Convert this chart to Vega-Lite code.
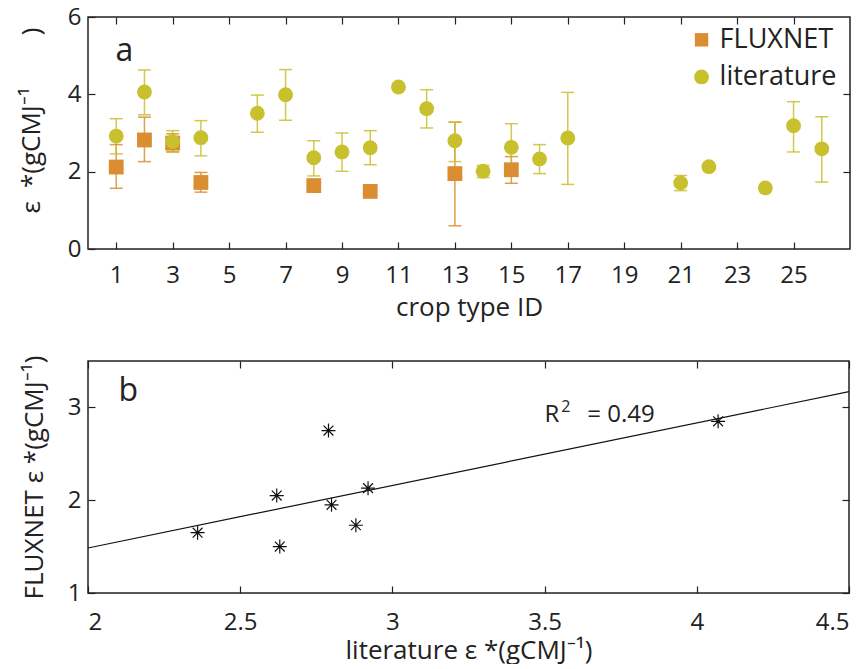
{
  "$schema": "https://vega.github.io/schema/vega-lite/v6.json",
  "background": "white",
  "padding": {"left": 17, "top": 4, "right": 0, "bottom": 0},
  "spacing": 33,
  "config": {
    "font": "Open Sans",
    "view": {"stroke": "#222222", "strokeWidth": 1.5},
    "axis": {
      "domain": false, "grid": false,
      "tickSize": -7, "tickColor": "#222222", "tickWidth": 1.2,
      "labelFont": "Open Sans", "labelFontSize": 24, "labelColor": "#222222",
      "titleFont": "Open Sans", "titleFontSize": 26, "titleFontWeight": "normal", "titleColor": "#222222"
    }
  },
  "datasets": {
    "crops": [
      {"id": 1, "source": "FLUXNET", "value": 2.12, "lo": 1.57, "hi": 2.70},
      {"id": 2, "source": "FLUXNET", "value": 2.82, "lo": 2.26, "hi": 3.41},
      {"id": 3, "source": "FLUXNET", "value": 2.74, "lo": 2.52, "hi": 2.98},
      {"id": 4, "source": "FLUXNET", "value": 1.72, "lo": 1.47, "hi": 1.98},
      {"id": 8, "source": "FLUXNET", "value": 1.64, "lo": null, "hi": null},
      {"id": 10, "source": "FLUXNET", "value": 1.49, "lo": null, "hi": null},
      {"id": 13, "source": "FLUXNET", "value": 1.95, "lo": 0.60, "hi": 3.28},
      {"id": 15, "source": "FLUXNET", "value": 2.05, "lo": 1.70, "hi": 2.39},
      {"id": 1, "source": "literature", "value": 2.92, "lo": 2.46, "hi": 3.37},
      {"id": 2, "source": "literature", "value": 4.06, "lo": 3.47, "hi": 4.63},
      {"id": 3, "source": "literature", "value": 2.78, "lo": 2.50, "hi": 3.06},
      {"id": 4, "source": "literature", "value": 2.88, "lo": 2.41, "hi": 3.32},
      {"id": 6, "source": "literature", "value": 3.51, "lo": 3.02, "hi": 3.98},
      {"id": 7, "source": "literature", "value": 3.99, "lo": 3.33, "hi": 4.64},
      {"id": 8, "source": "literature", "value": 2.36, "lo": 1.89, "hi": 2.80},
      {"id": 9, "source": "literature", "value": 2.51, "lo": 2.01, "hi": 3.00},
      {"id": 10, "source": "literature", "value": 2.62, "lo": 2.18, "hi": 3.06},
      {"id": 11, "source": "literature", "value": 4.19, "lo": null, "hi": null},
      {"id": 12, "source": "literature", "value": 3.63, "lo": 3.13, "hi": 4.12},
      {"id": 13, "source": "literature", "value": 2.80, "lo": 2.26, "hi": 3.28},
      {"id": 14, "source": "literature", "value": 2.01, "lo": 1.85, "hi": 2.16},
      {"id": 15, "source": "literature", "value": 2.63, "lo": 1.98, "hi": 3.24},
      {"id": 16, "source": "literature", "value": 2.33, "lo": 1.95, "hi": 2.70},
      {"id": 17, "source": "literature", "value": 2.87, "lo": 1.67, "hi": 4.05},
      {"id": 21, "source": "literature", "value": 1.71, "lo": 1.51, "hi": 1.90},
      {"id": 22, "source": "literature", "value": 2.13, "lo": null, "hi": null},
      {"id": 24, "source": "literature", "value": 1.58, "lo": null, "hi": null},
      {"id": 25, "source": "literature", "value": 3.19, "lo": 2.51, "hi": 3.81},
      {"id": 26, "source": "literature", "value": 2.59, "lo": 1.73, "hi": 3.42}
    ],
    "legend": [
      {"source": "FLUXNET"},
      {"source": "literature"}
    ],
    "pairs": [
      {"literature": 2.92, "fluxnet": 2.13},
      {"literature": 4.07, "fluxnet": 2.85},
      {"literature": 2.79, "fluxnet": 2.75},
      {"literature": 2.88, "fluxnet": 1.73},
      {"literature": 2.36, "fluxnet": 1.65},
      {"literature": 2.63, "fluxnet": 1.50},
      {"literature": 2.80, "fluxnet": 1.95},
      {"literature": 2.62, "fluxnet": 2.05}
    ],
    "fit": [
      {"literature": 2.0, "fluxnet": 1.485},
      {"literature": 4.5, "fluxnet": 3.17}
    ]
  },
  "vconcat": [
    {
      "width": 762,
      "height": 232,
      "resolve": {"axis": {"x": "independent", "y": "independent"}},
      "layer": [
        {
          "data": {"name": "crops"},
          "mark": {"type": "rule", "strokeWidth": 1.5, "opacity": 0.85},
          "encoding": {
            "x": {"field": "id", "type": "quantitative", "scale": {"domain": [0, 27], "nice": false, "zero": false},
                  "axis": {"values": [1,3,5,7,9,11,13,15,17,19,21,23,25], "title": "crop type ID", "labelPadding": 21, "titlePadding": 7}},
            "y": {"field": "lo", "type": "quantitative", "scale": {"domain": [0, 6], "nice": false},
                  "axis": {"values": [0,2,4,6], "title": "ε\u2002*(gCMJ⁻¹\u2003\u2003)", "labelPadding": 14, "titleX": -44, "titleY": 103, "titleBaseline": "bottom", "titleAngle": -90, "titleAlign": "center"}},
            "y2": {"field": "hi"},
            "stroke": {"field": "source", "type": "nominal", "scale": {"domain": ["FLUXNET", "literature"], "range": ["#DB8D31", "#C9C02E"]}, "legend": null}
          }
        },
        {
          "data": {"name": "crops"},
          "mark": {"type": "tick", "orient": "horizontal", "size": 13, "thickness": 1.5, "opacity": 0.85, "strokeWidth": 0},
          "encoding": {
            "x": {"field": "id", "type": "quantitative", "axis": null},
            "y": {"field": "lo", "type": "quantitative", "axis": null},
            "fill": {"field": "source", "type": "nominal", "scale": {"domain": ["FLUXNET", "literature"], "range": ["#DB8D31", "#C9C02E"]}, "legend": null}
          }
        },
        {
          "data": {"name": "crops"},
          "mark": {"type": "tick", "orient": "horizontal", "size": 13, "thickness": 1.5, "opacity": 0.85, "strokeWidth": 0},
          "encoding": {
            "x": {"field": "id", "type": "quantitative", "axis": null},
            "y": {"field": "hi", "type": "quantitative", "axis": null},
            "fill": {"field": "source", "type": "nominal", "legend": null}
          }
        },
        {
          "data": {"name": "crops"},
          "mark": {"type": "point", "filled": true, "opacity": 1, "size": 220},
          "encoding": {
            "x": {"field": "id", "type": "quantitative",
                  "axis": {"orient": "top", "values": [1,3,5,7,9,11,13,15,17,19,21,23,25], "labels": false, "title": null}},
            "y": {"field": "value", "type": "quantitative",
                  "axis": {"orient": "right", "values": [2,4], "labels": false, "title": null}},
            "color": {"field": "source", "type": "nominal",
                      "scale": {"domain": ["FLUXNET", "literature"], "range": ["#DB8D31", "#C9C02E"]}, "legend": null},
            "shape": {"field": "source", "type": "nominal", "scale": {"domain": ["FLUXNET", "literature"], "range": ["square", "circle"]}, "legend": null}
          }
        },
        {
          "data": {"name": "legend"},
          "transform": [{"filter": "datum.source === 'FLUXNET'"}],
          "mark": {"type": "point", "filled": true, "opacity": 1, "size": 180},
          "encoding": {
            "x": {"datum": 21.74, "type": "quantitative", "axis": null},
            "y": {"datum": 5.41, "type": "quantitative", "axis": null},
            "color": {"field": "source", "type": "nominal", "legend": null},
            "shape": {"field": "source", "type": "nominal", "legend": null}
          }
        },
        {
          "data": {"name": "legend"},
          "transform": [{"filter": "datum.source === 'literature'"}],
          "mark": {"type": "point", "filled": true, "opacity": 1, "size": 220},
          "encoding": {
            "x": {"datum": 21.74, "type": "quantitative", "axis": null},
            "y": {"datum": 4.45, "type": "quantitative", "axis": null},
            "color": {"field": "source", "type": "nominal", "legend": null},
            "shape": {"field": "source", "type": "nominal", "legend": null}
          }
        },
        {
          "data": {"name": "legend"},
          "transform": [{"filter": "datum.source === 'FLUXNET'"}],
          "mark": {"type": "text", "fontSize": 27, "align": "left", "baseline": "middle", "color": "#222222"},
          "encoding": {
            "x": {"datum": 22.38, "type": "quantitative", "axis": null},
            "y": {"datum": 5.41, "type": "quantitative", "axis": null},
            "text": {"field": "source", "type": "nominal"}
          }
        },
        {
          "data": {"name": "legend"},
          "transform": [{"filter": "datum.source === 'literature'"}],
          "mark": {"type": "text", "fontSize": 27, "align": "left", "baseline": "middle", "color": "#222222"},
          "encoding": {
            "x": {"datum": 22.38, "type": "quantitative", "axis": null},
            "y": {"datum": 4.45, "type": "quantitative", "axis": null},
            "text": {"field": "source", "type": "nominal"}
          }
        },
        {
          "data": {"values": [{}]},
          "mark": {"type": "text", "text": "a", "fontSize": 32, "align": "left", "baseline": "alphabetic", "color": "#222222"},
          "encoding": {
            "x": {"datum": 0.97, "type": "quantitative", "axis": null},
            "y": {"datum": 4.85, "type": "quantitative", "axis": null}
          }
        }
      ]
    },
    {
      "width": 761,
      "height": 232,
      "resolve": {"axis": {"x": "independent", "y": "independent"}},
      "layer": [
        {
          "data": {"name": "fit"},
          "mark": {"type": "line", "color": "#111111", "strokeWidth": 1.2},
          "encoding": {
            "x": {"field": "literature", "type": "quantitative", "scale": {"domain": [2, 4.5], "nice": false, "zero": false},
                  "axis": {"values": [2,2.5,3,3.5,4,4.5], "format": "~g", "title": "literature  ε *(gCMJ⁻¹)", "labelPadding": 24, "titlePadding": 3}},
            "y": {"field": "fluxnet", "type": "quantitative", "scale": {"domain": [1, 3.5], "nice": false, "zero": false},
                  "axis": {"values": [1,2,3], "title": "FLUXNET ε *(gCMJ⁻¹)", "labelPadding": 14, "titlePadding": 20}}
          }
        },
        {
          "data": {"name": "pairs"},
          "mark": {"type": "point", "shape": "M-1,0L1,0M0,-1L0,1M-0.7,-0.7L0.7,0.7M-0.7,0.7L0.7,-0.7", "filled": false, "stroke": "#111111", "strokeWidth": 1.2, "size": 196, "opacity": 1},
          "encoding": {
            "x": {"field": "literature", "type": "quantitative",
                  "axis": {"orient": "top", "values": [2,2.5,3,3.5,4,4.5], "labels": false, "title": null}},
            "y": {"field": "fluxnet", "type": "quantitative",
                  "axis": {"orient": "right", "values": [1,2,3], "labels": false, "title": null}}
          }
        },
        {
          "data": {"values": [{}]},
          "mark": {"type": "text", "text": "b", "fontSize": 32, "align": "left", "baseline": "alphabetic", "color": "#222222"},
          "encoding": {
            "x": {"datum": 2.1, "type": "quantitative", "axis": null},
            "y": {"datum": 3.07, "type": "quantitative", "axis": null}
          }
        },
        {
          "data": {"values": [{}]},
          "mark": {"type": "text", "text": "R", "fontSize": 24, "align": "left", "baseline": "alphabetic", "color": "#222222"},
          "encoding": {
            "x": {"datum": 3.5, "type": "quantitative", "axis": null},
            "y": {"datum": 2.84, "type": "quantitative", "axis": null}
          }
        },
        {
          "data": {"values": [{}]},
          "mark": {"type": "text", "text": "2", "fontSize": 16, "align": "left", "baseline": "alphabetic", "color": "#222222"},
          "encoding": {
            "x": {"datum": 3.555, "type": "quantitative", "axis": null},
            "y": {"datum": 2.95, "type": "quantitative", "axis": null}
          }
        },
        {
          "data": {"values": [{}]},
          "mark": {"type": "text", "text": "= 0.49", "fontSize": 24, "align": "left", "baseline": "alphabetic", "color": "#222222"},
          "encoding": {
            "x": {"datum": 3.64, "type": "quantitative", "axis": null},
            "y": {"datum": 2.84, "type": "quantitative", "axis": null}
          }
        }
      ]
    }
  ]
}
